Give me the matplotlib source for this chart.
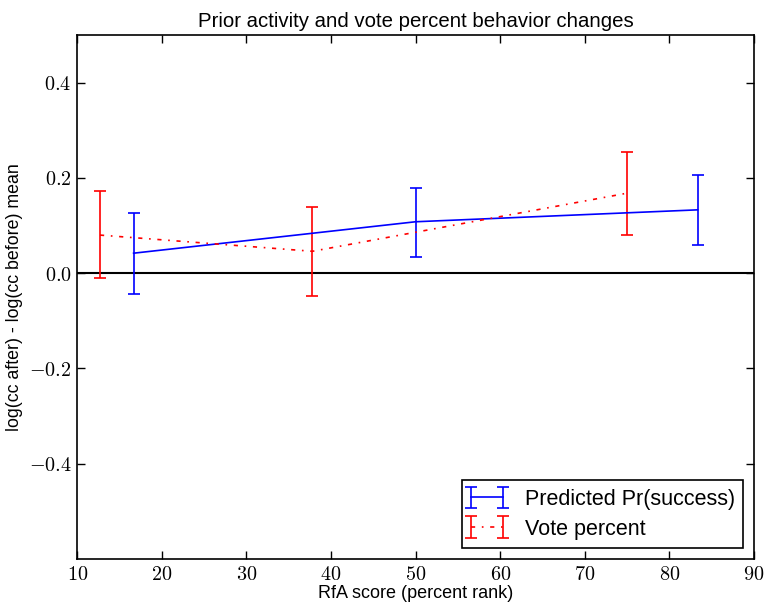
import matplotlib
matplotlib.use("Agg")
import matplotlib.pyplot as plt
from matplotlib.ticker import FuncFormatter
from matplotlib.legend_handler import HandlerErrorbar

# Predicted Pr(success) bins
pred_x = [16.67, 50.0, 83.33]
pred_y = [0.042, 0.108, 0.133]
pred_lo = [-0.043, 0.035, 0.059]
pred_hi = [0.126, 0.179, 0.207]

# Vote percent bins
vote_x = [12.7, 37.8, 75.0]
vote_y = [0.080, 0.046, 0.168]
vote_lo = [-0.011, -0.048, 0.080]
vote_hi = [0.173, 0.138, 0.255]

plt.rcParams['mathtext.fontset'] = 'cm'
plt.rcParams['font.family'] = ['Liberation Sans', 'DejaVu Sans']

fig = plt.figure(figsize=(7.64, 6.04), dpi=100)
ax = fig.add_axes([0.101, 0.0745, 0.886, 0.8675])

pred_err = [[y - lo for y, lo in zip(pred_y, pred_lo)],
            [hi - y for y, hi in zip(pred_y, pred_hi)]]
vote_err = [[y - lo for y, lo in zip(vote_y, vote_lo)],
            [hi - y for y, hi in zip(vote_y, vote_hi)]]

ax.errorbar(pred_x, pred_y, yerr=pred_err, color='blue', ls='-', lw=1.2,
            capsize=4, elinewidth=1.2, capthick=1.2, label='Predicted Pr(success)')
ax.errorbar(vote_x, vote_y, yerr=vote_err, color='red', ls=(0, (2.5, 4, 1, 4)), lw=1.2,
            capsize=4, elinewidth=1.2, capthick=1.2, label='Vote percent')
ax.axhline(0, color='black', lw=1.5, zorder=1)

ax.set_xlim(10, 90)
ax.set_ylim(-0.6, 0.5)
ax.set_xticks(range(10, 91, 10))
ax.set_yticks([-0.4, -0.2, 0.0, 0.2, 0.4])
ax.xaxis.set_major_formatter(FuncFormatter(lambda v, p: r'$%d$' % v))
ax.yaxis.set_major_formatter(FuncFormatter(lambda v, p: r'$%.1f$' % v))
ax.tick_params(direction='in', top=True, right=True, length=6, width=1,
               labelsize=14.5, pad=4)
for s in ax.spines.values():
    s.set_linewidth(1.2)

ax.set_title('Prior activity and vote percent behavior changes', fontsize=14.7)
ax.set_xlabel('RfA score (percent rank)', fontsize=13, labelpad=1)
ax.set_ylabel('log(cc after) - log(cc before) mean', fontsize=12.8, labelpad=4)

leg = ax.legend(loc='lower right', numpoints=2, fontsize=15.5, fancybox=False,
                framealpha=1, edgecolor='black', borderaxespad=0.5,
                handlelength=1.5, handletextpad=1.0, labelspacing=0.4,
                handler_map={type(ax.containers[0]): HandlerErrorbar(marker_pad=0)})
leg.get_frame().set_linewidth(1.2)

fig.savefig('out.png', dpi=100)
